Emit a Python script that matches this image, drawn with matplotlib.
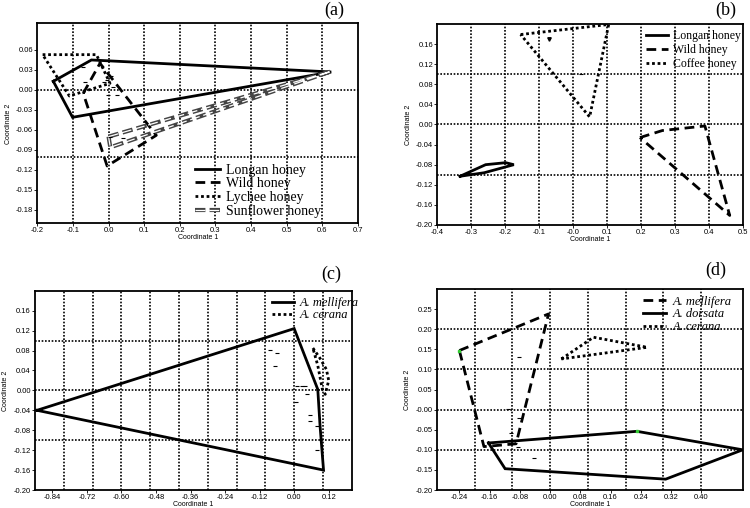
import numpy as np
import matplotlib.pyplot as plt
from matplotlib.legend_handler import HandlerTuple

plt.rcParams['font.family'] = 'Liberation Sans'
plt.rcParams['axes.unicode_minus'] = False

# ---- panel (a): honey types
a_longan_x = [-0.155, -0.048, 0.625, -0.101]
a_longan_y = [0.013, 0.045, 0.027, -0.041]
a_wild_x = [-0.071, -0.024, 0.134, -0.004]
a_wild_y = [-0.005, 0.040, -0.068, -0.114]
a_lychee_x = [-0.185, -0.034, 0.004, -0.110]
a_lychee_y = [0.053, 0.053, 0.010, -0.009]
a_sun_x = [0.000, 0.625, 0.005]
a_sun_y = [-0.070, 0.028, -0.086]
a_pts_x = [-0.071, -0.066, -0.013, -0.004, -0.001, 0.024, 0.008, 0.041, 0.004, 0.013]
a_pts_y = [0.035, 0.0125, 0.0125, 0.015, -0.0075, -0.0075, 0.021, -0.072, -0.070, 0.005]

# ---- panel (b): honey types
b_longan_x = [-0.333, -0.258, -0.199, -0.175, -0.262]
b_longan_y = [-0.103, -0.080, -0.076, -0.080, -0.096]
b_wild_x = [0.196, 0.262, 0.387, 0.460]
b_wild_y = [-0.026, -0.012, -0.003, -0.181]
b_coffee_x = [-0.155, 0.104, 0.048]
b_coffee_y = [0.179, 0.199, 0.015]
b_pts_x = [-0.071, 0.023]
b_pts_y = [0.170, 0.100]

# ---- panel (c): bee species
c_mell_x = [-0.893, 0.000, 0.082, 0.090, 0.102]
c_mell_y = [-0.040, 0.124, 0.002, -0.072, -0.160]
c_cer_x = [0.065, 0.088, 0.112, 0.120, 0.108, 0.098, 0.082]
c_cer_y = [0.085, 0.066, 0.042, 0.020, -0.008, 0.002, 0.050]
c_pts_x = [-0.083, -0.060, -0.068, 0.009, 0.027, 0.038, 0.044, 0.006, 0.056, 0.056, 0.081, 0.079]
c_pts_y = [0.082, 0.075, 0.048, 0.009, 0.008, 0.008, -0.007, -0.024, -0.049, -0.062, -0.072, -0.119]

# ---- panel (d): bee species
d_mell_x = [-0.240, -0.004, -0.090, -0.175]
d_mell_y = [0.147, 0.238, -0.085, -0.092]
d_dor_x = [-0.163, 0.230, 0.510, 0.306, -0.119]
d_dor_y = [-0.083, -0.054, -0.100, -0.173, -0.147]
d_cer_x = [0.030, 0.115, 0.257]
d_cer_y = [0.126, 0.180, 0.155]
d_pts_x = [-0.081, -0.112, -0.083, -0.103, -0.085, -0.042]
d_pts_y = [0.130, 0.0025, -0.020, -0.057, -0.093, -0.120]
d_green_x = [-0.240, 0.230]
d_green_y = [0.147, -0.054]

LW = 2.0
SOLID = '-'
DASHED = (0, (3.5, 2))
DOTTED = (0, (1, 1))


def closed(v):
    return list(v) + [v[0]]


def poly(ax, xs, ys, ls, label=None):
    return ax.plot(closed(xs), closed(ys), color='black', lw=LW, ls=ls,
                   label=label, solid_joinstyle='miter')[0]


def setup(ax, xlim, ylim, xt, xfmt, yt, yfmt, gx, gy):
    ax.set_xlim(xlim)
    ax.set_ylim(ylim)
    ax.set_xticks(xt)
    ax.set_xticklabels([xfmt.format(v) for v in xt])
    ax.set_yticks(yt)
    ax.set_yticklabels([yfmt.format(v) for v in yt])
    for g in gx:
        ax.axvline(g, color='black', lw=1.2, ls=(0, (1, 1)), zorder=0)
    for g in gy:
        ax.axhline(g, color='black', lw=1.2, ls=(0, (1, 1)), zorder=0)
    ax.tick_params(direction='out', length=2, width=0.6, labelsize=5.5, pad=1)
    ax.set_xlabel('Coordinate 1', fontsize=5, labelpad=0)
    ax.set_ylabel('Coordinate 2', fontsize=5, labelpad=3)
    for s in ax.spines.values():
        s.set_linewidth(1.3)


serif = 'Liberation Serif'
fig = plt.figure(figsize=(7.5, 5.08), dpi=100)

# (a)
ax = fig.add_axes([0.0497, 0.5604, 0.4276, 0.3937])
setup(ax, (-0.2, 0.7), (-0.2, 0.1),
      np.round(np.arange(-0.2, 0.71, 0.1), 2), '{:.1f}',
      np.round(np.arange(-0.18, 0.061, 0.03), 2), '{:.2f}',
      np.round(np.arange(-0.1, 0.61, 0.1), 2), [-0.1, 0.0])
h1 = poly(ax, a_longan_x, a_longan_y, SOLID)
h2 = poly(ax, a_wild_x, a_wild_y, DASHED)
h3 = poly(ax, a_lychee_x, a_lychee_y, DOTTED)
s_out = ax.plot(closed(a_sun_x), closed(a_sun_y), color='#444444', lw=3.0,
                ls=(0, (2.5, 1)))[0]
s_in = ax.plot(closed(a_sun_x), closed(a_sun_y), color='white', lw=0.9,
               ls=(0, (8, 3)))[0]
ax.plot(a_pts_x, a_pts_y, ls='none', marker='_', ms=3, color='black', mew=0.8)
ax.legend([h1, h2, h3, (s_out, s_in)],
          ['Longan honey', 'Wild honey', 'Lychee honey', 'Sunflower honey'],
          handler_map={tuple: HandlerTuple(ndivide=1, pad=0)},
          loc='lower left', bbox_to_anchor=(0.46, -0.02), frameon=False,
          prop={'family': serif, 'size': 10}, handlelength=1.8,
          handletextpad=0.5, labelspacing=0.02, borderpad=0.2)
fig.text(0.446, 0.979, '(a)', family=serif, fontsize=13, ha='center', va='center')

# (b)
ax = fig.add_axes([0.5831, 0.5571, 0.408, 0.3957])
setup(ax, (-0.4, 0.5), (-0.2, 0.2),
      np.round(np.arange(-0.4, 0.51, 0.1), 2), '{:.1f}',
      np.round(np.arange(-0.2, 0.161, 0.04), 2), '{:.2f}',
      np.round(np.arange(-0.3, 0.41, 0.1), 2), [-0.1, 0.0, 0.1])
h1 = poly(ax, b_longan_x, b_longan_y, SOLID, 'Longan honey')
h2 = poly(ax, b_wild_x, b_wild_y, DASHED, 'Wild honey')
h3 = poly(ax, b_coffee_x, b_coffee_y, DOTTED, 'Coffee honey')
ax.plot(b_pts_x[:1], b_pts_y[:1], ls='none', marker='v', ms=2.5, color='black')
ax.plot(b_pts_x[1:], b_pts_y[1:], ls='none', marker='_', ms=3, color='black', mew=0.8)
ax.legend(loc='upper left', bbox_to_anchor=(0.655, 1.01), frameon=False,
          prop={'family': serif, 'size': 8.5}, handlelength=1.85,
          handletextpad=0.45, labelspacing=0.15, borderpad=0.2)
fig.text(0.967, 0.979, '(b)', family=serif, fontsize=13, ha='center', va='center')

# (c)
ax = fig.add_axes([0.0467, 0.0354, 0.4223, 0.3923])
setup(ax, (-0.9, 0.2), (-0.2, 0.2),
      np.round(np.arange(-0.84, 0.13, 0.12), 2), '{:.2f}',
      np.round(np.arange(-0.2, 0.161, 0.04), 2), '{:.2f}',
      np.round(np.arange(-0.8, 0.11, 0.1), 2), [-0.1, 0.0, 0.1])
poly(ax, c_mell_x, c_mell_y, SOLID, 'A. mellifera')
poly(ax, c_cer_x, c_cer_y, DOTTED, 'A. cerana')
ax.plot(c_pts_x, c_pts_y, ls='none', marker='_', ms=3, color='black', mew=0.8)
ax.legend(loc='upper left', bbox_to_anchor=(0.72, 1.01), frameon=False,
          prop={'family': serif, 'size': 9, 'style': 'italic'}, handlelength=1.75,
          handletextpad=0.5, labelspacing=0.0, borderpad=0.2)
fig.text(0.442, 0.459, '(c)', family=serif, fontsize=13, ha='center', va='center')

# (d)
ax = fig.add_axes([0.5823, 0.0354, 0.408, 0.3957])
setup(ax, (-0.3, 0.51), (-0.2, 0.3),
      np.round(np.arange(-0.24, 0.41, 0.08), 2), '{:.2f}',
      np.round(np.arange(-0.2, 0.251, 0.05), 2), '{:.2f}',
      np.round(np.arange(-0.2, 0.41, 0.1), 2), [-0.1, 0.0, 0.1, 0.2])
poly(ax, d_mell_x, d_mell_y, DASHED, 'A. mellifera')
poly(ax, d_dor_x, d_dor_y, SOLID, 'A. dorsata')
poly(ax, d_cer_x, d_cer_y, DOTTED, 'A. cerana')
ax.plot(d_pts_x, d_pts_y, ls='none', marker='_', ms=3, color='black', mew=0.8)
ax.plot(d_green_x, d_green_y, ls='none', marker='s', ms=1.5, color='#33cc33')
ax.legend(loc='upper left', bbox_to_anchor=(0.645, 1.01), frameon=False,
          prop={'family': serif, 'size': 9, 'style': 'italic'}, handlelength=1.85,
          handletextpad=0.5, labelspacing=0.05, borderpad=0.2)
fig.text(0.955, 0.468, '(d)', family=serif, fontsize=13, ha='center', va='center')

fig.savefig('out.png', dpi=100)
